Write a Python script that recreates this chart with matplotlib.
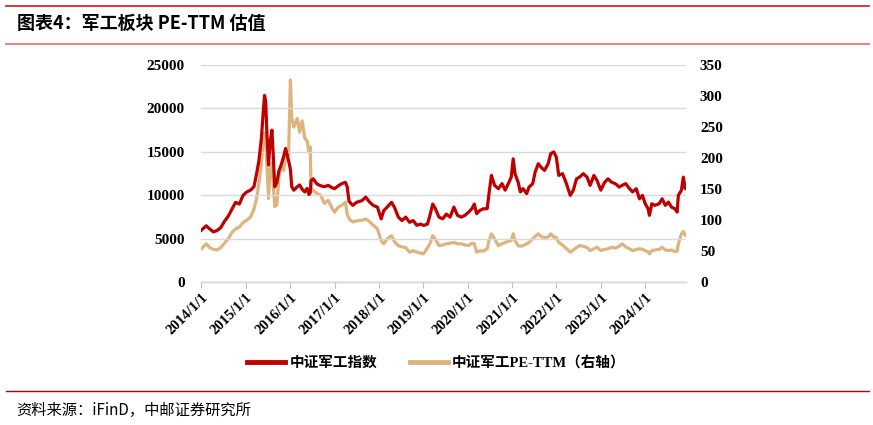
import pandas as pd
import matplotlib
matplotlib.use("Agg")
import matplotlib.pyplot as plt
import matplotlib.dates as mdates
from matplotlib.lines import Line2D

# Values
dates = [
    "2014-01-02", "2014-02-10", "2014-03-10", "2014-04-10", "2014-05-10", "2014-06-10",
    "2014-07-10", "2014-08-10", "2014-09-10", "2014-10-10", "2014-11-10", "2014-12-10",
    "2015-01-10", "2015-02-10", "2015-03-10", "2015-04-01", "2015-04-20", "2015-05-10",
    "2015-05-25", "2015-06-05", "2015-06-15", "2015-06-25", "2015-07-08", "2015-07-20",
    "2015-08-05", "2015-08-18", "2015-08-28", "2015-09-15", "2015-10-01", "2015-10-20",
    "2015-11-10", "2015-11-25", "2015-12-20", "2016-01-04", "2016-01-15", "2016-02-01",
    "2016-03-01", "2016-03-20", "2016-04-10", "2016-05-01", "2016-05-20", "2016-06-05",
    "2016-06-15", "2016-06-22", "2016-07-10", "2016-08-10", "2016-09-10", "2016-10-10",
    "2016-11-10", "2016-12-10", "2017-01-01", "2017-02-01", "2017-03-01", "2017-04-01",
    "2017-04-15", "2017-05-01", "2017-06-01", "2017-07-01", "2017-08-15", "2017-09-15",
    "2017-10-15", "2017-11-15", "2017-12-20", "2018-01-20", "2018-02-10", "2018-03-10",
    "2018-04-15", "2018-05-10", "2018-06-10", "2018-07-10", "2018-08-10", "2018-09-10",
    "2018-10-10", "2018-11-10", "2018-12-10", "2019-01-05", "2019-02-05", "2019-02-25",
    "2019-03-20", "2019-04-10", "2019-05-10", "2019-06-10", "2019-07-10", "2019-08-10",
    "2019-09-10", "2019-10-10", "2019-11-10", "2019-12-10", "2020-01-10", "2020-02-05",
    "2020-02-25", "2020-03-15", "2020-04-10", "2020-05-10", "2020-06-10", "2020-06-25",
    "2020-07-15", "2020-08-10", "2020-09-10", "2020-10-10", "2020-11-05", "2020-12-01",
    "2020-12-25", "2021-01-10", "2021-01-25", "2021-02-20", "2021-03-10", "2021-04-01",
    "2021-05-01", "2021-05-20", "2021-06-20", "2021-07-10", "2021-08-05", "2021-08-25",
    "2021-09-25", "2021-10-25", "2021-11-15", "2021-12-10", "2021-12-31", "2022-01-20",
    "2022-02-20", "2022-03-20", "2022-04-25", "2022-05-20", "2022-06-15", "2022-07-10",
    "2022-08-10", "2022-09-10", "2022-10-05", "2022-11-05", "2022-12-01", "2023-01-01",
    "2023-02-01", "2023-03-01", "2023-04-01", "2023-05-01", "2023-06-01", "2023-06-25",
    "2023-07-25", "2023-08-25", "2023-09-20", "2023-10-20", "2023-11-15", "2023-12-10",
    "2024-01-01", "2024-01-25", "2024-02-05", "2024-02-25", "2024-03-20", "2024-04-25",
    "2024-05-20", "2024-06-15", "2024-07-10", "2024-08-05", "2024-09-01", "2024-09-20",
    "2024-09-30", "2024-10-25", "2024-11-10", "2024-11-25", "2024-12-02",
]

index_values = [
    6000, 6500, 6150, 5800, 5950, 6300,
    7000, 7600, 8400, 9200, 9000, 10000,
    10400, 10600, 11000, 12500, 14000, 16500,
    19500, 21500, 20800, 17000, 13500, 16000,
    17500, 14000, 11000, 11500, 12800, 13500,
    14500, 15400, 14000, 13000, 11000, 10600,
    11000, 11200, 10700, 10400, 10800, 10100,
    10300, 11700, 11900, 11300, 11100, 11000,
    11150, 10900, 10770, 11100, 11350, 11500,
    11000, 9300, 8850, 9200, 9400, 9800,
    9250, 8850, 8650, 7300, 8250, 8650,
    9200, 8600, 7500, 7100, 7500, 6900,
    7100, 6550, 6700, 6540, 6700, 7700,
    9000, 8500, 7500, 7300, 7850, 7500,
    8650, 7700, 7500, 7700, 8080, 8460,
    9000, 7900, 8270, 8460, 8460, 10200,
    12300, 11150, 10770, 11350, 10600, 11350,
    12100, 14200, 12500, 11500, 10400, 10770,
    10200, 10950, 11350, 12700, 13650, 13270,
    12880, 13650, 14800, 15000, 14400, 12300,
    12500, 11500, 10000, 10600, 11900, 12100,
    12500, 12100, 11150, 12300, 11700, 10600,
    11500, 11900, 11500, 11350, 10950, 11150,
    11350, 10770, 10400, 10770, 9600, 10000,
    9050, 8460, 7700, 9040, 8850, 9040,
    9610, 8850, 9230, 8650, 8460, 8080,
    10000, 10580, 12100, 10800, 10770,
]

pe_values = [
    54, 62, 56, 53, 52, 56,
    63, 70, 80, 86, 89, 96,
    100, 105, 118, 135, 160, 190,
    225, 240, 230, 190, 135, 180,
    192, 150, 122, 125, 170, 186,
    180, 200, 205, 326, 265, 250,
    264, 242, 260, 232, 228, 210,
    218, 150, 148, 143, 140, 127,
    132, 120, 113, 121, 124, 129,
    110, 102, 97, 99, 100, 102,
    98, 92, 86, 67, 62, 70,
    75, 65, 59, 57, 56, 48.5,
    51, 48.5, 47, 46, 56, 62,
    75, 70, 59, 60, 62, 63,
    64, 62, 62, 60, 59, 63,
    62, 48.5, 51, 50, 54, 67,
    78, 70, 59, 62, 64, 66,
    67, 78, 67, 59, 58, 59,
    62, 64, 70, 74, 78, 74,
    72, 73, 78, 73, 72, 64,
    60, 55, 48.5, 52, 56, 59,
    58, 56, 51, 54, 56.5, 51,
    53, 54, 56.5, 55, 58, 62,
    57, 54, 51, 53, 54, 53,
    51, 49, 45.8, 51, 52, 53,
    56.5, 52, 51, 52, 49.5, 50,
    62, 78, 82, 76, 75,
]

left_ticks = [0, 5000, 10000, 15000, 20000, 25000]
right_ticks = [0, 50, 100, 150, 200, 250, 300, 350]
year_ticks = [f"{y}-01-01" for y in range(2014, 2025)]

df = pd.DataFrame({"date": pd.to_datetime(dates), "index": index_values, "pe": pe_values})

red = "#C00000"
tan = "#DDB47E"
serif = ["Liberation Serif", "Noto Sans CJK SC"]

fig = plt.figure(figsize=(8.73, 4.25), dpi=100)
ax = fig.add_axes([0.2306, 0.3358, 0.5552, 0.5112])
ax2 = ax.twinx()

l1, = ax.plot(df["date"], df["index"], color=red, lw=2.3, label="中证军工指数", zorder=3)
l2, = ax2.plot(df["date"], df["pe"], color=tan, lw=2.3, label="中证军工PE-TTM（右轴）", zorder=2)
ax.set_zorder(ax2.get_zorder() + 1)
ax.patch.set_visible(False)

ax.set_ylim(0, 25000)
ax2.set_ylim(0, 350)
ax.set_yticks(left_ticks)
ax2.set_yticks(right_ticks)
ax.set_xlim(pd.Timestamp("2014-01-01"), df["date"].iloc[-1])
ax.set_xticks(pd.to_datetime(year_ticks))
ax.xaxis.set_major_formatter(mdates.DateFormatter("%Y/%-m/%-d"))

ax.grid(axis="y", color="#D9D9D9", lw=1)
ax.set_axisbelow(True)
for a in (ax, ax2):
    for s in ("left", "right", "top"):
        a.spines[s].set_visible(False)
    a.spines["bottom"].set_color("#D9D9D9")
    a.spines["bottom"].set_linewidth(1)

ax.tick_params(axis="y", length=0, pad=12)
ax2.tick_params(axis="y", length=0, pad=10)
ax.tick_params(axis="x", length=4, color="#BFBFBF", pad=2)
for lab in ax.get_yticklabels() + ax2.get_yticklabels():
    lab.set_fontfamily("Liberation Serif")
    lab.set_fontweight("bold")
    lab.set_fontsize(11)
for lab in ax.get_xticklabels():
    lab.set_fontfamily("Liberation Serif")
    lab.set_fontweight("bold")
    lab.set_fontsize(10.5)
    lab.set_rotation(45)
    lab.set_ha("right")
    lab.set_rotation_mode("anchor")

leg = fig.legend(handles=[l1, l2], loc="center", bbox_to_anchor=(0.5, 0.146), ncol=2,
                 frameon=False, handlelength=2.6, handletextpad=0.3, columnspacing=2.2,
                 prop={"family": serif, "weight": "bold", "size": 10.5})
for h in leg.legend_handles:
    h.set_linewidth(3.5)

# title block
fig.add_artist(Line2D([0.007, 0.995], [1 - 5.7 / 425] * 2, color="#D9272E", lw=1.3))
fig.add_artist(Line2D([0.007, 0.995], [1 - 43.5 / 425] * 2, color="#E8787C", lw=1.3))
fig.text(0.019, 1 - 23.5 / 425, "图表4：军工板块 PE-TTM 估值", ha="left", va="center",
         fontsize=13, fontweight="bold", family=["Noto Sans CJK SC", "DejaVu Sans"])

# source block
fig.add_artist(Line2D([0.007, 0.995], [1 - 391 / 425] * 2, color="#C00000", lw=1.0))
fig.text(0.019, 1 - 410 / 425, "资料来源：iFinD，中邮证券研究所", ha="left", va="center",
         fontsize=11, family=["Noto Sans CJK SC", "DejaVu Sans"])

fig.savefig("out.png", dpi=100)
